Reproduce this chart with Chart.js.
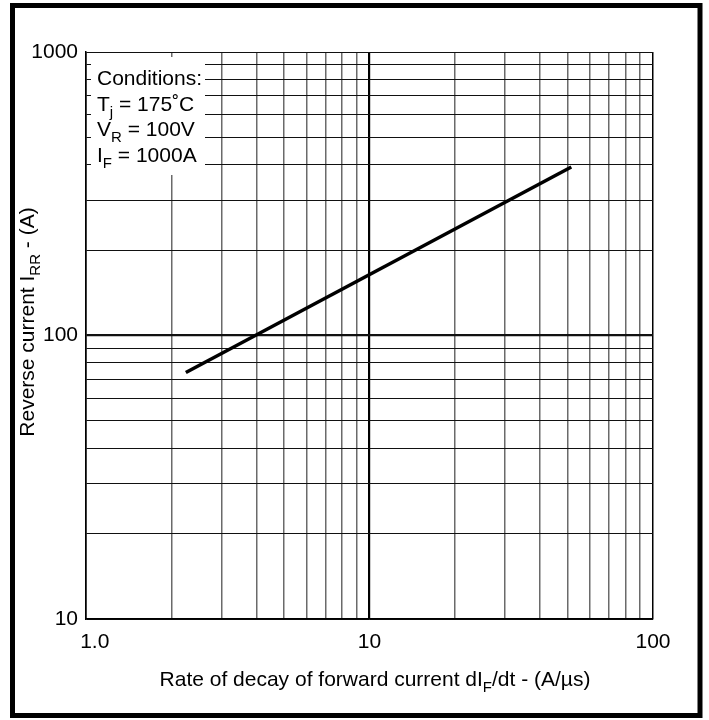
<!DOCTYPE html>
<html>
<head>
<meta charset="utf-8">
<script src="https://cdn.jsdelivr.net/npm/chart.js@4/dist/chart.umd.min.js"></script>
<style>
  html, body { margin: 0; padding: 0; background: #fff; }
  canvas { display: block; }
</style>
</head>
<body>
<canvas id="chart" width="709" height="720"></canvas>
<script>
// grid positions (log decades) and the labelled ticks
var xGridValues = [1, 2, 3, 4, 5, 6, 7, 8, 9, 10, 20, 30, 40, 50, 60, 70, 80, 90, 100];
var yGridValues = [10, 20, 30, 40, 50, 60, 70, 80, 90, 100, 200, 300, 400, 500, 600, 700, 800, 900, 1000];
var xLabelValues = [1, 10, 100];
var xLabelText = ["1.0", "10", "100"];
var yLabelValues = [10, 100, 1000];
var yLabelText = ["10", "100", "1000"];

// curve: dIF/dt (A/us) -> IRR (A)
var rateValues = [2.25, 51.5];
var currentValues = [74, 393];

var FONT = "'Liberation Sans', Arial, sans-serif";

var points = rateValues.map(function (r, i) {
    return { x: r, y: currentValues[i] };
});

// draws a string made of parts, some of them subscript
function drawRich(ctx, parts, x, y, size, align) {
    var subSize = Math.round(size * 0.72);
    var total = 0;
    parts.forEach(function (p) {
        ctx.font = (p.sub ? subSize : size) + "px " + FONT;
        p.w = ctx.measureText(p.t).width;
        total += p.w;
    });
    var cx = align === "center" ? x - total / 2 : x;
    ctx.textAlign = "left";
    ctx.textBaseline = "alphabetic";
    parts.forEach(function (p) {
        ctx.font = (p.sub ? subSize : size) + "px " + FONT;
        ctx.fillText(p.t, cx, p.sub ? y + size * 0.3 : y);
        cx += p.w;
    });
}

var framePlugin = {
    id: "frame",
    beforeDraw: function (chart) {
        var ctx = chart.ctx;
        ctx.save();
        ctx.fillStyle = "#fff";
        ctx.fillRect(0, 0, chart.width, chart.height);
        ctx.strokeStyle = "#000";
        ctx.lineWidth = 5;
        ctx.strokeRect(12.5, 5.5, 687.5, 710);
        ctx.restore();
    },
    beforeDatasetsDraw: function (chart) {
        var ctx = chart.ctx;
        var a = chart.chartArea;
        ctx.save();
        // white box for the conditions text
        ctx.fillStyle = "#fff";
        ctx.fillRect(a.left + 5, a.top + 5, 114, 118);
        ctx.fillStyle = "#000";
        var lx = a.left + 11;
        drawRich(ctx, [{ t: "Conditions:" }], lx, a.top + 33, 21);
        drawRich(ctx, [{ t: "T" }, { t: "j", sub: true }, { t: " = 175˚C" }], lx, a.top + 59, 21);
        drawRich(ctx, [{ t: "V" }, { t: "R", sub: true }, { t: " = 100V" }], lx, a.top + 84, 21);
        drawRich(ctx, [{ t: "I" }, { t: "F", sub: true }, { t: " = 1000A" }], lx, a.top + 110, 21);

        // axis titles
        drawRich(ctx, [{ t: "Rate of decay of forward current dI" }, { t: "F", sub: true }, { t: "/dt - (A/µs)" }],
            375, 686, 21, "center");
        ctx.translate(34, 322);
        ctx.rotate(-Math.PI / 2);
        drawRich(ctx, [{ t: "Reverse current I" }, { t: "RR", sub: true }, { t: " - (A)" }], 0, 0, 21, "center");
        ctx.restore();
    }
};

new Chart(document.getElementById("chart"), {
    type: "scatter",
    data: {
        datasets: [{
            data: points,
            showLine: true,
            borderColor: "#000",
            borderWidth: 3.5,
            pointRadius: 0,
            fill: false
        }]
    },
    options: {
        responsive: false,
        animation: false,
        devicePixelRatio: 1,
        layout: { padding: { left: 0, top: 52, right: 56, bottom: 0 } },
        plugins: { legend: { display: false }, tooltip: { enabled: false } },
        scales: {
            x: {
                type: "logarithmic",
                min: 1,
                max: 100,
                afterBuildTicks: function (scale) {
                    scale.ticks = xGridValues.map(function (v) { return { value: v }; });
                },
                afterFit: function (scale) { scale.height = 101; },
                ticks: {
                    autoSkip: false,
                    maxRotation: 0,
                    padding: 11,
                    color: "#000",
                    font: { family: FONT, size: 21 },
                    callback: function (v) {
                        var i = xLabelValues.indexOf(v);
                        if (i < 0) return "";
                        // first label sits a little right of the axis corner
                        return i === 0 ? "   " + xLabelText[i] : xLabelText[i];
                    }
                },
                grid: {
                    drawTicks: false,
                    color: function (c) {
                        var v = c.tick ? c.tick.value : 0;
                        return (v === 10 || v === 1 || v === 100) ? "#000" : "#6a6a6a";
                    },
                    lineWidth: function (c) {
                        var v = c.tick ? c.tick.value : 0;
                        return v === 10 ? 2.2 : 1.5;
                    }
                },
                border: { color: "#000", width: 1.5 }
            },
            y: {
                type: "logarithmic",
                min: 10,
                max: 1000,
                afterBuildTicks: function (scale) {
                    scale.ticks = yGridValues.map(function (v) { return { value: v }; });
                },
                afterFit: function (scale) { scale.width = 86; },
                ticks: {
                    autoSkip: false,
                    padding: 8,
                    color: "#000",
                    font: { family: FONT, size: 21 },
                    callback: function (v) {
                        var i = yLabelValues.indexOf(v);
                        return i >= 0 ? yLabelText[i] : "";
                    }
                },
                grid: {
                    drawTicks: false,
                    color: "#111",
                    lineWidth: function (c) {
                        var v = c.tick ? c.tick.value : 0;
                        return v === 100 ? 2.2 : 1;
                    }
                },
                border: { color: "#000", width: 1.5 }
            }
        }
    },
    plugins: [framePlugin]
});
</script>
</body>
</html>
